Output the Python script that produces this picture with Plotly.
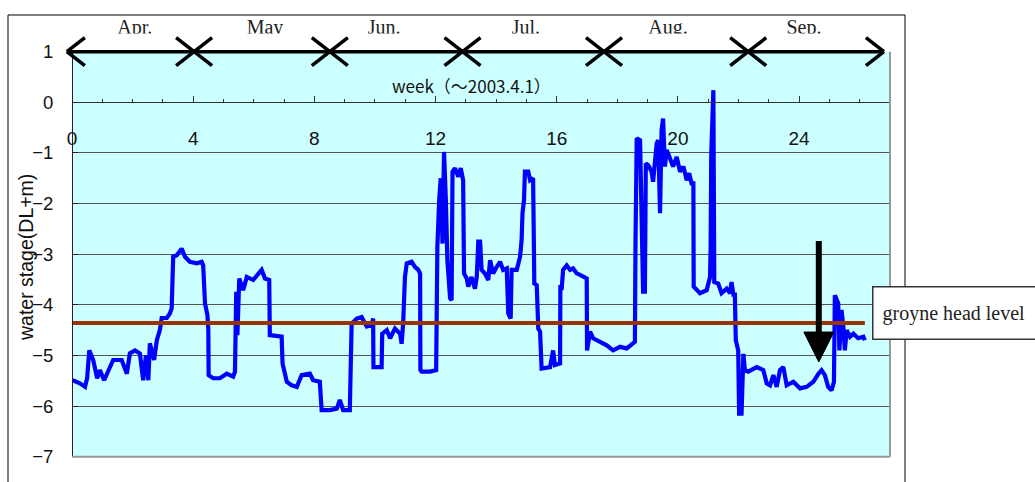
import plotly.graph_objects as go

# ---- water stage record (week counted from 2003-04-01, stage in DL+m) ----
week = [
    0.02, 0.26, 0.43, 0.50, 0.57, 0.70, 0.83, 0.92, 1.06, 1.20, 1.36, 1.64, 1.81, 1.91,
    2.08, 2.24, 2.35, 2.44, 2.52, 2.57, 2.71, 2.80, 2.90, 2.96, 3.13, 3.23, 3.29, 3.34,
    3.46, 3.62, 3.73, 3.89, 4.12, 4.28, 4.33, 4.39, 4.47, 4.50, 4.51, 4.66, 4.88, 5.11,
    5.32, 5.38, 5.42, 5.46, 5.50, 5.52, 5.65, 5.77, 5.98, 6.26, 6.37, 6.51, 6.53, 6.76,
    6.92, 6.95, 7.03, 7.09, 7.25, 7.42, 7.58, 7.85, 7.96, 8.18, 8.24, 8.51, 8.74, 8.84,
    8.95, 9.17, 9.23, 9.40, 9.56, 9.73, 9.89, 9.94, 9.95, 10.22, 10.24, 10.39, 10.50, 10.66,
    10.83, 10.88, 10.93, 10.95, 10.99, 11.05, 11.21, 11.32, 11.43, 11.49, 11.50, 11.54, 11.82, 12.02,
    12.04, 12.06, 12.12, 12.17, 12.23, 12.28, 12.34, 12.39, 12.48, 12.53, 12.56, 12.64, 12.75, 12.83,
    12.91, 12.94, 13.03, 13.08, 13.19, 13.30, 13.36, 13.41, 13.47, 13.52, 13.63, 13.74, 13.80, 13.90,
    14.02, 14.13, 14.23, 14.35, 14.40, 14.48, 14.51, 14.68, 14.79, 14.84, 14.87, 14.92, 14.95, 15.06,
    15.12, 15.22, 15.26, 15.34, 15.39, 15.45, 15.50, 15.78, 15.88, 15.94, 16.11, 16.12, 16.16, 16.21,
    16.33, 16.44, 16.54, 16.66, 16.77, 16.87, 16.99, 17.00, 17.10, 17.20, 17.43, 17.65, 17.86, 18.09,
    18.31, 18.52, 18.58, 18.60, 18.64, 18.75, 18.80, 18.85, 18.91, 18.94, 19.02, 19.13, 19.18, 19.24,
    19.30, 19.35, 19.41, 19.46, 19.51, 19.57, 19.63, 19.74, 19.84, 19.96, 20.07, 20.18, 20.29, 20.37,
    20.45, 20.51, 20.52, 20.73, 20.95, 21.06, 21.08, 21.10, 21.17, 21.20, 21.33, 21.44, 21.61, 21.72,
    21.77, 21.83, 21.88, 21.91, 21.99, 22.02, 22.10, 22.16, 22.21, 22.32, 22.60, 22.82, 22.93, 23.04,
    23.15, 23.26, 23.37, 23.48, 23.59, 23.81, 24.03, 24.25, 24.47, 24.64, 24.74, 24.85, 24.96, 25.07,
    25.15, 25.18, 25.29, 25.33, 25.40, 25.46, 25.51, 25.57, 25.68, 25.79, 25.95, 26.12, 26.17,
]
stage = [
    -5.49, -5.55, -5.62, -5.45, -4.90, -5.09, -5.45, -5.29, -5.49, -5.29, -5.09, -5.09, -5.36, -4.96,
    -4.90, -4.96, -5.49, -5.00, -5.49, -4.76, -5.09, -4.70, -4.50, -4.26, -4.26, -4.17, -4.07, -3.05,
    -3.02, -2.89, -3.05, -3.15, -3.18, -3.15, -3.22, -3.97, -4.20, -4.50, -5.39, -5.45, -5.45, -5.36,
    -5.42, -5.32, -3.74, -4.60, -3.55, -3.48, -3.71, -3.45, -3.51, -3.31, -3.48, -3.51, -4.60, -4.63,
    -4.63, -5.16, -5.36, -5.52, -5.59, -5.62, -5.39, -5.36, -5.49, -5.52, -6.08, -6.08, -6.05, -5.88,
    -6.08, -6.08, -4.37, -4.27, -4.24, -4.43, -4.40, -4.27, -5.23, -5.23, -4.57, -4.50, -4.66, -4.47,
    -4.57, -4.77, -4.37, -3.74, -3.45, -3.18, -3.15, -3.25, -3.31, -3.38, -5.29, -5.32, -5.32, -5.29,
    -4.43, -2.85, -1.93, -1.50, -2.79, -0.98, -1.93, -3.12, -3.87, -3.91, -1.37, -1.30, -1.47, -1.30,
    -1.54, -3.38, -3.48, -3.64, -3.45, -3.68, -3.45, -2.75, -2.75, -3.31, -3.38, -3.51, -3.12, -3.38,
    -3.25, -3.15, -3.31, -3.28, -4.17, -4.27, -3.31, -3.31, -3.05, -2.72, -2.19, -1.93, -1.37, -1.37,
    -1.54, -1.50, -3.58, -3.61, -4.47, -4.53, -5.26, -5.23, -4.90, -5.19, -5.16, -3.61, -3.71, -3.31,
    -3.22, -3.31, -3.28, -3.38, -3.41, -3.45, -3.48, -4.90, -4.53, -4.66, -4.73, -4.80, -4.90, -4.83,
    -4.86, -4.76, -4.73, -2.75, -0.71, -0.75, -2.91, -3.74, -3.74, -1.21, -1.24, -1.37, -1.57, -1.27,
    -0.81, -0.75, -2.19, -0.55, -0.32, -1.27, -0.94, -1.11, -1.27, -1.08, -1.37, -1.27, -1.54, -1.40,
    -1.60, -1.60, -3.64, -3.77, -3.71, -3.45, -2.85, -1.01, 0.24, -3.55, -3.58, -3.77, -3.68, -3.77,
    -3.55, -3.80, -3.80, -4.70, -4.90, -6.15, -6.15, -4.97, -5.29, -5.32, -5.23, -5.29, -5.55, -5.59,
    -5.39, -5.62, -5.29, -5.23, -5.59, -5.52, -5.65, -5.62, -5.52, -5.36, -5.29, -5.39, -5.62, -5.69,
    -5.52, -3.81, -3.97, -4.90, -4.10, -4.43, -4.90, -4.50, -4.63, -4.57, -4.66, -4.63, -4.70,
]

# groyne head level (DL+m) and its drawn extent in weeks
groyne_level = -4.36
groyne_span = [0.0, 26.17]

# month band along the top edge
month_names = ["Apr.", "May", "Jun.", "Jul.", "Aug.", "Sep."]
month_label_week = [2.07, 6.37, 10.30, 14.98, 19.67, 24.16]
month_bounds_week = [-0.17, 4.03, 8.51, 12.89, 17.56, 22.32, 26.80]

# marker arrow (week, top of shaft, tip)
arrow_week = 24.65
arrow_top = -2.74
arrow_tip = -5.13

# ---- geometry ----
W, H = 1035, 482
XR = [0, 27]
YR = [-7, 1]
XD = [72 / W, 890 / W]
YD = [1 - 456.7 / H, 1 - 51.7 / H]
Y2D = [1 - 33.5 / H, 1 - 15 / H]


def wx(w):
    return XD[0] + (w - XR[0]) / (XR[1] - XR[0]) * (XD[1] - XD[0])


def vy(v):
    return YD[0] + (v - YR[0]) / (YR[1] - YR[0]) * (YD[1] - YD[0])


fig = go.Figure()

fig.add_trace(go.Scatter(
    x=week, y=stage, mode="lines",
    line=dict(color="#0000FF", width=4.2),
    hoverinfo="skip", showlegend=False,
))
fig.add_trace(go.Scatter(
    x=groyne_span, y=[groyne_level, groyne_level], mode="lines",
    line=dict(color="#993300", width=4),
    hoverinfo="skip", showlegend=False,
))
# month names, clipped by the thin band subplot just above the plot
fig.add_trace(go.Scatter(
    x=month_label_week, y=[0.22] * len(month_names), text=month_names,
    mode="text", xaxis="x", yaxis="y2",
    textfont=dict(family="Liberation Serif", size=20, color="#222"),
    textposition="middle center", hoverinfo="skip", showlegend=False,
))

shapes = []
# plot area fill and grey right/bottom border
shapes.append(dict(type="rect", xref="x domain", yref="y domain", x0=0, x1=1, y0=0, y1=1,
                   fillcolor="#CCFFFF", line=dict(width=0), layer="below"))
shapes.append(dict(type="line", xref="x domain", yref="y domain", x0=1, x1=1, y0=0, y1=1,
                   line=dict(color="#999999", width=2)))
shapes.append(dict(type="line", xref="x domain", yref="y domain", x0=0, x1=1, y0=0, y1=0,
                   line=dict(color="#999999", width=2)))
# outer chart frame
shapes.append(dict(type="rect", xref="paper", yref="paper", x0=8 / W, x1=905 / W,
                   y0=-0.1, y1=1 - 15 / H, line=dict(color="#000", width=1), layer="below"))

# month band: long line with arrowheads at every boundary
band_y = vy(1)
arm_dx, arm_dy = 18 / W, 14 / H
blk = dict(color="#000", width=3.5)
shapes.append(dict(type="line", xref="paper", yref="paper",
                   x0=wx(month_bounds_week[0]), x1=wx(month_bounds_week[-1]),
                   y0=band_y, y1=band_y, line=blk))
for i, b in enumerate(month_bounds_week):
    bx = wx(b)
    dirs = []
    if i < len(month_bounds_week) - 1:
        dirs.append(1)
    if i > 0:
        dirs.append(-1)
    for d in dirs:
        for s in (1, -1):
            shapes.append(dict(type="line", xref="paper", yref="paper",
                               x0=bx, y0=band_y, x1=bx + d * arm_dx, y1=band_y + s * arm_dy,
                               line=blk))

# downward marker arrow
head_half_w = 15 / ((XD[1] - XD[0]) * W) * (XR[1] - XR[0])
head_h = 30 / ((YD[1] - YD[0]) * H) * (YR[1] - YR[0])
head_base = arrow_tip + head_h
shapes.append(dict(type="line", xref="x", yref="y", x0=arrow_week, x1=arrow_week,
                   y0=arrow_top, y1=head_base, line=dict(color="#000", width=6)))
shapes.append(dict(type="path", xref="x", yref="y",
                   path=f"M {arrow_week - head_half_w},{head_base} L {arrow_week + head_half_w},{head_base} "
                        f"L {arrow_week},{arrow_tip} Z",
                   fillcolor="#000", line=dict(color="#000", width=1)))

annotations = [
    dict(text="week（～2003.4.1）", xref="paper", yref="paper",
         x=471.7 / W, y=1 - 85 / H, xanchor="center", yanchor="middle", showarrow=False,
         font=dict(family="Noto Sans CJK JP", size=17, color="#111")),
    dict(text="water stage(DL+m)", xref="paper", yref="paper", textangle=-90,
         x=26 / W, y=1 - 258 / H, xanchor="center", yanchor="middle", showarrow=False,
         font=dict(family="Liberation Sans", size=19.5, color="#111")),
    dict(text="groyne head level", xref="paper", yref="paper",
         x=872 / W, y=1 - 312.5 / H, xanchor="left", yanchor="middle", showarrow=False,
         width=190, height=33, align="left", bgcolor="#FFFFFF",
         bordercolor="#333", borderwidth=1.5, borderpad=9,
         font=dict(family="Liberation Serif", size=20, color="#222")),
]

fig.update_layout(
    template="none",
    width=W, height=H, autosize=False,
    margin=dict(l=0, r=0, t=0, b=0),
    paper_bgcolor="#FFFFFF", plot_bgcolor="rgba(0,0,0,0)",
    showlegend=False,
    xaxis=dict(
        domain=XD, range=XR, anchor="free", position=vy(0), side="bottom",
        showline=True, linecolor="#333", linewidth=1,
        tickmode="linear", tick0=0, dtick=4,
        ticks="inside", ticklen=6, tickwidth=1, tickcolor="#333",
        minor=dict(tickmode="linear", tick0=0, dtick=1, ticks="inside", ticklen=3,
                   tickcolor="#333", showgrid=False),
        showgrid=False, zeroline=False,
        tickfont=dict(family="Liberation Sans", size=19, color="#111"),
        ticklabelstandoff=19,
    ),
    yaxis=dict(
        domain=YD, range=YR, anchor="free", position=XD[0],
        showline=True, linecolor="#222", linewidth=1,
        tickmode="linear", tick0=-7, dtick=1,
        ticks="inside", ticklen=5, tickcolor="#222",
        showgrid=True, gridcolor="#555555", gridwidth=1, zeroline=False,
        tickfont=dict(family="Liberation Sans", size=18.5, color="#111"),
        ticklabelstandoff=15,
    ),
    yaxis2=dict(domain=Y2D, range=[0, 1], anchor="x", visible=False, fixedrange=True),
    shapes=shapes,
    annotations=annotations,
)

fig.write_html("out.html", config={"displayModeBar": False})
